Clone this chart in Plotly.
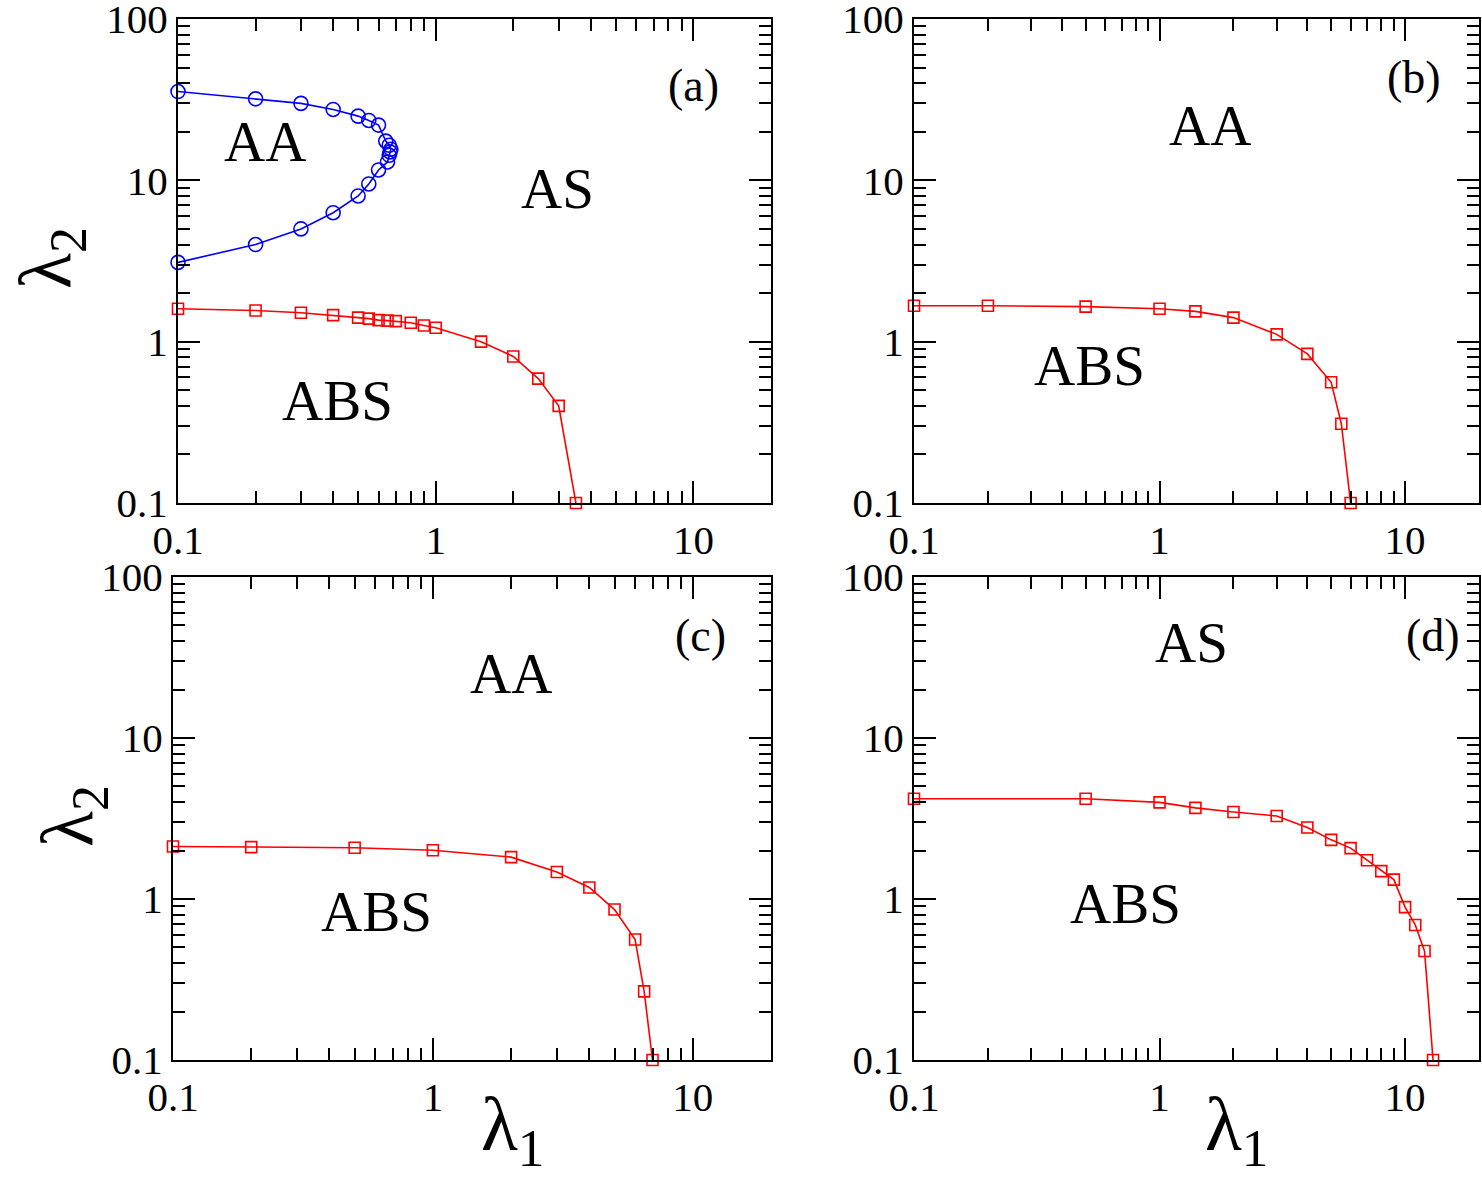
import plotly.graph_objects as go

W, H = 1482, 1182

# ---------------- data ----------------
# panel (a): AA/AS boundary (blue circles)
a_blue_x = [0.1, 0.2, 0.3, 0.4, 0.5, 0.55, 0.6, 0.64, 0.66, 0.67, 0.665, 0.66, 0.65,
            0.6, 0.55, 0.5, 0.4, 0.3, 0.2, 0.1]
a_blue_y = [35.5, 32.0, 30.0, 27.5, 25.0, 23.5, 22.0, 17.5, 16.5, 15.6, 15.0, 14.3, 13.0,
            11.6, 9.5, 8.0, 6.3, 5.0, 4.0, 3.1]
# panel (a): ABS boundary (red squares)
a_red_x = [0.1, 0.2, 0.3, 0.4, 0.5, 0.55, 0.6, 0.65, 0.7, 0.8, 0.9, 1.0, 1.5, 2.0, 2.5, 3.0, 3.5]
a_red_y = [1.60, 1.56, 1.51, 1.46, 1.41, 1.39, 1.36, 1.35, 1.34, 1.31, 1.26, 1.22, 1.00,
           0.81, 0.59, 0.40, 0.10]
# panel (b)
b_red_x = [0.1, 0.2, 0.5, 1.0, 1.4, 2.0, 3.0, 4.0, 5.0, 5.5, 6.0]
b_red_y = [1.67, 1.67, 1.65, 1.60, 1.54, 1.41, 1.11, 0.84, 0.56, 0.31, 0.10]
# panel (c)
c_red_x = [0.1, 0.2, 0.5, 1.0, 2.0, 3.0, 4.0, 5.0, 6.0, 6.5, 7.0]
c_red_y = [2.12, 2.10, 2.08, 2.01, 1.82, 1.47, 1.18, 0.86, 0.56, 0.267, 0.10]
# panel (d)
d_red_x = [0.1, 0.5, 1.0, 1.4, 2.0, 3.0, 4.0, 5.0, 6.0, 7.0, 8.0, 9.0, 10.0, 11.0, 12.0, 13.0]
d_red_y = [4.19, 4.19, 3.98, 3.68, 3.47, 3.28, 2.78, 2.33, 2.07, 1.74, 1.49, 1.32, 0.89,
           0.69, 0.475, 0.10]

x_major = [0.1, 1, 10]
x_major_text = ["0.1", "1", "10"]
y_major = [0.1, 1, 10, 100]
y_major_text = ["0.1", "1", "10", "100"]
x_minor = [0.2, 0.3, 0.4, 0.5, 0.6, 0.7, 0.8, 0.9, 2, 3, 4, 5, 6, 7, 8, 9]
y_minor = x_minor + [20, 30, 40, 50, 60, 70, 80, 90]

panel_letters = ["(a)", "(b)", "(c)", "(d)"]

# ---------------- layout helpers ----------------
FONT = "Liberation Serif"
BLUE = "#0000ff"
RED = "#ff0000"

# panel frames in pixels: left, right, top, bottom
frames = [
    (178, 771, 19, 503),
    (914, 1479, 19, 503),
    (173, 771, 577, 1060),
    (914, 1479, 577, 1060),
]

fig = go.Figure()


def add_series(xs, ys, color, symbol, size, idx):
    sfx = "" if idx == 1 else str(idx)
    fig.add_trace(go.Scatter(
        x=xs, y=ys, mode="lines+markers",
        line=dict(color=color, width=1.6),
        marker=dict(symbol=symbol, size=size, color=color,
                    line=dict(color=color, width=1.6)),
        xaxis="x" + sfx, yaxis="y" + sfx, showlegend=False, cliponaxis=False))


add_series(a_blue_x, a_blue_y, BLUE, "circle-open", 14, 1)
add_series(a_red_x, a_red_y, RED, "square-open", 11, 1)
add_series(b_red_x, b_red_y, RED, "square-open", 11, 2)
add_series(c_red_x, c_red_y, RED, "square-open", 11, 3)
add_series(d_red_x, d_red_y, RED, "square-open", 11, 4)

layout = dict(
    width=W, height=H, margin=dict(l=0, r=0, t=0, b=0, pad=0, autoexpand=False),
    paper_bgcolor="white", plot_bgcolor="white", showlegend=False,
)

for i, (l, r, t, b) in enumerate(frames, start=1):
    sfx = "" if i == 1 else str(i)
    common = dict(
        type="log", showline=True, linewidth=2, linecolor="black", mirror="ticks",
        ticks="inside", ticklen=22, tickwidth=2, tickcolor="black",
        showgrid=False, zeroline=False, automargin=False,
        ticklabeloverflow="allow",
        tickfont=dict(family=FONT, size=41, color="black"),
        tickmode="array",
    )
    xa = dict(common, domain=[l / W, r / W], range=[-1, 1.30103],
              tickvals=x_major, ticktext=x_major_text,
              anchor="y" + sfx,
              minor=dict(ticks="inside", ticklen=12, tickwidth=2, tickcolor="black",
                         tickmode="array", tickvals=x_minor, showgrid=False))
    ya = dict(common, domain=[1 - b / H, 1 - t / H], range=[-1, 2],
              tickvals=y_major, ticktext=y_major_text,
              anchor="x" + sfx,
              minor=dict(ticks="inside", ticklen=12, tickwidth=2, tickcolor="black",
                         tickmode="array", tickvals=y_minor, showgrid=False))
    layout["xaxis" + sfx] = xa
    layout["yaxis" + sfx] = ya

fig.update_layout(**layout)


def txt(text, px, py, size, angle=0):
    fig.add_annotation(text=text, x=px / W, y=1 - py / H, xref="paper", yref="paper",
                       xanchor="center", yanchor="middle", showarrow=False,
                       textangle=angle,
                       font=dict(family=FONT, size=size, color="black"))


# region labels
txt("AA", 265, 142, 57)
txt("AS", 557, 188, 57)
txt("ABS", 337, 400, 57)
txt("AA", 1210, 126, 57)
txt("ABS", 1089, 366, 57)
txt("AA", 511, 673, 57)
txt("ABS", 376, 911, 57)
txt("AS", 1191, 643, 57)
txt("ABS", 1125, 903, 57)

# panel letters
txt(panel_letters[0], 693, 86, 46)
txt(panel_letters[1], 1414, 78, 46)
txt(panel_letters[2], 700, 636, 46)
txt(panel_letters[3], 1433, 635, 46)

# axis titles
txt("λ<sub>2</sub>", 50, 258, 74, angle=-90)
txt("λ<sub>2</sub>", 72, 816, 74, angle=-90)
txt("λ<sub>1</sub>", 512, 1130, 76)
txt("λ<sub>1</sub>", 1236, 1130, 76)

fig.write_html("out.html")
